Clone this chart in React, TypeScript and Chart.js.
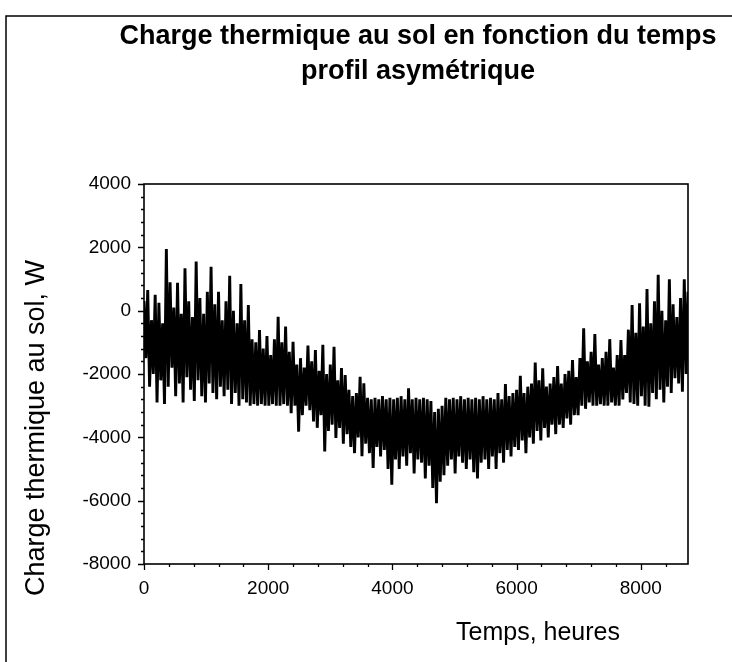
import React, { useEffect, useRef } from "react";
import { Chart, registerables } from "chart.js";

Chart.register(...registerables);

// Ground thermal load over one year, sampled every 30 h.
// PEAKS are read at 0, 60, 120 ... h ; TROUGHS at 30, 90, 150 ... h.
const STEP_H = 30;

const PEAKS = [
  300, 650, -300, 500, 250, -400, 1950, 900, 100, 880,
  -100, 1340, 300, -200, 1550, 400, -100, 600, 1390, 200,
  600, -300, 300, 1100, 0, -400, 840, -300, 180, -900,
  -1000, -610, -1200, -800, -1400, -900, -190, -1000, -500, -1300,
  -980, -1700, -1500, -1800, -1100, -1600, -1240, -1900, -1080, -2000,
  -1700, -1140, -2200, -1810, -2030, -2500, -2700, -2600, -2090, -2290,
  -2750, -2800, -2750, -2800, -2700, -2800, -2750, -2800, -2750, -2700,
  -2800, -2450, -2800, -2750, -2800, -2750, -2800, -2850, -3200, -3100,
  -3000, -2750, -2800, -2750, -2800, -2700, -2800, -2750, -2800, -2750,
  -2800, -2700, -2800, -2750, -2800, -2600, -2800, -2320, -2700, -2600,
  -2500, -2060, -2600, -2400, -2300, -1640, -2200, -1820, -2400, -2300,
  -2100, -1750, -2300, -2000, -1900, -1560, -2100, -1500, -560, -1600,
  -1300, -740, -1700, -1500, -1300, -900, -1800, -1400, -930, -1400,
  -600, 180, -700, 230, -500, 680, -400, 300, 1130, 0,
  -300, 990, 200, -200, 400, 990, 600,
];

const TROUGHS = [
  -1500, -2400, -2000, -2900, -2200, -2950, -2400, -1800, -2700, -2300,
  -2900, -2100, -2500, -2850, -2200, -2700, -2900, -2300, -2600, -2800,
  -2400, -2700, -2500, -2950, -2600, -3000, -2800, -2900, -3000, -2950,
  -3000, -2950, -3000, -3000, -2950, -3000, -3000, -2950, -3000, -3240,
  -3000, -3820, -3300, -3000, -3140, -3500, -3700, -3300, -4450, -3800,
  -3600, -4020, -3700, -4200, -3900, -4300, -4500, -4000, -4600, -4200,
  -4500, -4970, -4300, -4600, -4400, -5000, -5500, -4700, -5000, -4600,
  -4900, -4500, -5140, -4700, -4800, -5300, -4900, -5600, -6080, -5400,
  -5200, -4900, -4700, -5140, -4600, -4800, -5000, -4700, -5100, -5300,
  -4800, -4700, -5000, -4600, -5000, -4500, -4800, -4400, -4600, -4300,
  -4400, -4100, -4500, -4000, -4200, -3800, -4100, -3700, -4000, -3600,
  -3900, -3600, -3700, -3400, -3600, -3300, -3300, -3000, -3100, -2900,
  -3000, -3000, -2950, -3000, -3000, -2900, -3000, -3000, -2800, -2600,
  -2900, -2950, -3000, -2700, -3000, -3030, -2600, -2800, -2500, -2900,
  -2400, -2600, -2130, -2300, -2560, -2000,
];

const X_MIN = 0;
const X_MAX = 8760;
const Y_MIN = -8000;
const Y_MAX = 4000;
const X_TICKS = [0, 2000, 4000, 6000, 8000];
const Y_TICKS = [-8000, -6000, -4000, -2000, 0, 2000, 4000];
const MINOR_STEP = 400;

const TITLE_LINES = ["Charge thermique au sol en fonction du temps", "profil asymétrique"];
const X_TITLE = "Temps, heures";
const Y_TITLE = "Charge thermique au sol, W";

const FONT = '"Liberation Sans", Arial, Helvetica, sans-serif';

function buildSeries() {
  const pts: { x: number; y: number }[] = [];
  for (let i = 0; i < PEAKS.length; i++) {
    pts.push({ x: i * 2 * STEP_H, y: PEAKS[i] });
    if (i < TROUGHS.length) pts.push({ x: (i * 2 + 1) * STEP_H, y: TROUGHS[i] });
  }
  return pts;
}

const decorPlugin = {
  id: "decor",
  afterDraw(chart: any) {
    const { ctx, chartArea: a, scales } = chart;
    const xs = scales.x;
    const ys = scales.y;
    ctx.save();
    ctx.strokeStyle = "#000";
    ctx.fillStyle = "#000";

    // page frame
    ctx.lineWidth = 1.5;
    ctx.beginPath();
    ctx.moveTo(6, 662);
    ctx.lineTo(6, 16);
    ctx.lineTo(732, 16);
    ctx.stroke();

    // plot box
    ctx.lineWidth = 1.6;
    ctx.strokeRect(a.left, a.top, a.right - a.left, a.bottom - a.top);

    // tick marks (major and minor), outward
    ctx.lineWidth = 1.3;
    ctx.beginPath();
    for (let v = Y_MIN; v <= Y_MAX; v += MINOR_STEP) {
      const py = Math.round(ys.getPixelForValue(v)) + 0.5;
      const len = Y_TICKS.includes(v) ? 6 : 3;
      ctx.moveTo(a.left - len, py);
      ctx.lineTo(a.left, py);
    }
    for (let v = X_MIN; v <= X_MAX; v += MINOR_STEP) {
      const px = Math.round(xs.getPixelForValue(v)) + 0.5;
      const len = X_TICKS.includes(v) ? 6 : 3;
      ctx.moveTo(px, a.bottom);
      ctx.lineTo(px, a.bottom + len);
    }
    ctx.stroke();

    // chart title
    const cx = (a.left + a.right) / 2 + 2;
    ctx.textAlign = "center";
    ctx.textBaseline = "middle";
    ctx.font = `bold 27px ${FONT}`;
    ctx.fillText(TITLE_LINES[0], cx, 37);
    ctx.fillText(TITLE_LINES[1], cx, 72);

    // axis titles
    ctx.font = `25px ${FONT}`;
    ctx.fillText(X_TITLE, 538, 633);
    ctx.save();
    ctx.translate(37, 428);
    ctx.rotate(-Math.PI / 2);
    ctx.font = `27px ${FONT}`;
    ctx.fillText(Y_TITLE, 0, 0);
    ctx.restore();

    ctx.restore();
  },
};

export default function App() {
  const ref = useRef<HTMLCanvasElement | null>(null);

  useEffect(() => {
    if (!ref.current) return;
    const chart = new Chart(ref.current, {
      type: "line",
      data: {
        datasets: [
          {
            data: buildSeries(),
            borderColor: "#000",
            borderWidth: 2.9,
            borderJoinStyle: "bevel",
            pointRadius: 0,
            tension: 0,
            fill: false,
          },
        ],
      },
      options: {
        responsive: false,
        animation: false,
        events: [],
        layout: { padding: { left: 0, right: 44, top: 184, bottom: 0 } },
        plugins: {
          legend: { display: false },
          tooltip: { enabled: false },
          title: { display: false },
        },
        scales: {
          x: {
            type: "linear",
            min: X_MIN,
            max: X_MAX,
            border: { display: false },
            grid: { display: false, drawTicks: false },
            afterBuildTicks: (s: any) => {
              s.ticks = X_TICKS.map((value) => ({ value }));
            },
            ticks: {
              color: "#000",
              font: { family: FONT, size: 19 },
              padding: 13,
              maxRotation: 0,
              autoSkip: false,
              callback: (v: any) => String(v),
            },
            afterFit: (s: any) => {
              s.height = 98;
            },
          },
          y: {
            min: Y_MIN,
            max: Y_MAX,
            border: { display: false },
            grid: { display: false, drawTicks: false },
            afterBuildTicks: (s: any) => {
              s.ticks = Y_TICKS.map((value) => ({ value }));
            },
            ticks: {
              color: "#000",
              font: { family: FONT, size: 19 },
              padding: 13,
              autoSkip: false,
              callback: (v: any) => String(v),
            },
            afterFit: (s: any) => {
              s.width = 144;
            },
          },
        },
      },
      plugins: [decorPlugin],
    });
    return () => chart.destroy();
  }, []);

  return (
    <div style={{ position: "fixed", left: 0, top: 0, width: 732, height: 662, background: "#fff" }}>
      <canvas ref={ref} width={732} height={662} style={{ display: "block" }} />
    </div>
  );
}
